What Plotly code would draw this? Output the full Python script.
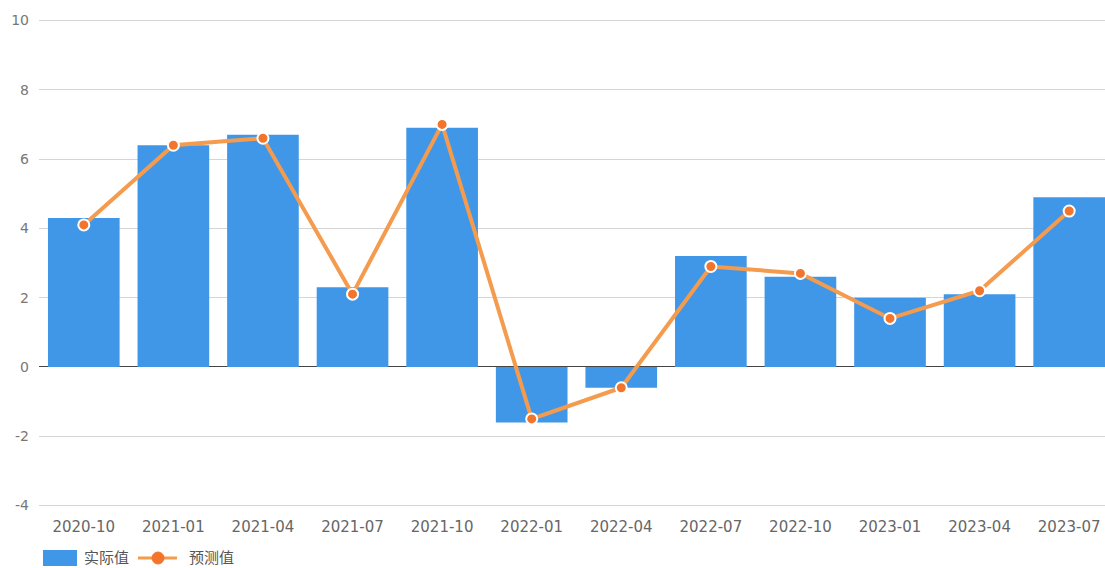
import plotly.graph_objects as go

categories = ["2020-10", "2021-01", "2021-04", "2021-07", "2021-10", "2022-01",
              "2022-04", "2022-07", "2022-10", "2023-01", "2023-04", "2023-07"]
actual = [4.3, 6.4, 6.7, 2.3, 6.9, -1.6, -0.6, 3.2, 2.6, 2.0, 2.1, 4.9]
forecast = [4.1, 6.4, 6.6, 2.1, 7.0, -1.5, -0.6, 2.9, 2.7, 1.4, 2.2, 4.5]
series_names = ["实际值", "预测值"]
y_ticks = [-4, -2, 0, 2, 4, 6, 8, 10]
y_tick_labels = ["-4", "-2", "0", "2", "4", "6", "8", "10"]

BAR_COLOR = "#4197E7"
LINE_COLOR = "#F49B4E"
MARKER_COLOR = "#F2752B"

W, H = 1105, 568
ML, MR, MT, MB = 39, 0, 17, 59
PW, PH = W - ML - MR, H - MT - MB

def px_x(p):
    return (p - ML) / PW

def px_y(p):
    return (H - MB - p) / PH

fig = go.Figure()
fig.add_trace(go.Bar(
    x=categories, y=actual, name=series_names[0],
    marker=dict(color=BAR_COLOR, line=dict(width=0)),
))
fig.add_trace(go.Scatter(
    x=categories, y=forecast, name=series_names[1], mode="lines+markers",
    line=dict(color=LINE_COLOR, width=4),
    marker=dict(color=MARKER_COLOR, size=11, line=dict(color="white", width=2)),
))

# custom legend
leg_y = 558
shapes = [
    dict(type="rect", xref="paper", yref="paper",
         x0=px_x(43), x1=px_x(77), y0=px_y(566), y1=px_y(550),
         fillcolor=BAR_COLOR, line=dict(width=0)),
    dict(type="line", xref="paper", yref="paper",
         x0=px_x(138), x1=px_x(177), y0=px_y(leg_y), y1=px_y(leg_y),
         line=dict(color=LINE_COLOR, width=3)),
    dict(type="circle", xref="paper", yref="paper",
         x0=px_x(152), x1=px_x(164), y0=px_y(564), y1=px_y(552),
         fillcolor=MARKER_COLOR, line=dict(color=MARKER_COLOR, width=1)),
]
annotations = [
    dict(text=series_names[0], xref="paper", yref="paper", x=px_x(82), y=px_y(leg_y),
         xanchor="left", yanchor="middle", showarrow=False,
         font=dict(size=15, color="#555")),
    dict(text=series_names[1], xref="paper", yref="paper", x=px_x(187), y=px_y(leg_y),
         xanchor="left", yanchor="middle", showarrow=False,
         font=dict(size=15, color="#555")),
]

fig.update_layout(
    width=W, height=H,
    margin=dict(l=ML, r=MR, t=MT, b=MB),
    paper_bgcolor="white", plot_bgcolor="white",
    bargap=0.2,
    font=dict(family="DejaVu Sans, Noto Sans CJK SC, sans-serif", size=14, color="#666"),
    showlegend=False,
    shapes=shapes,
    annotations=annotations,
)
fig.update_xaxes(
    type="category", range=[-0.5, 11.4],
    showgrid=False, showline=False, ticks="",
    ticklabelstandoff=7,
    tickfont=dict(family="DejaVu Sans", size=15, color="#666"),
)
fig.update_yaxes(
    range=[-4.1, 10.1], tickvals=y_ticks, ticktext=y_tick_labels,
    showgrid=True, gridcolor="#D5D5D5", gridwidth=1,
    zeroline=True, zerolinecolor="#444", zerolinewidth=1,
    showline=False, ticks="",
    ticklabelstandoff=9,
    tickfont=dict(family="DejaVu Sans", size=14, color="#777"),
)

fig.write_html("out.html", config={"displayModeBar": False},
               post_script="document.body.style.margin='0';document.body.style.overflow='hidden';")
